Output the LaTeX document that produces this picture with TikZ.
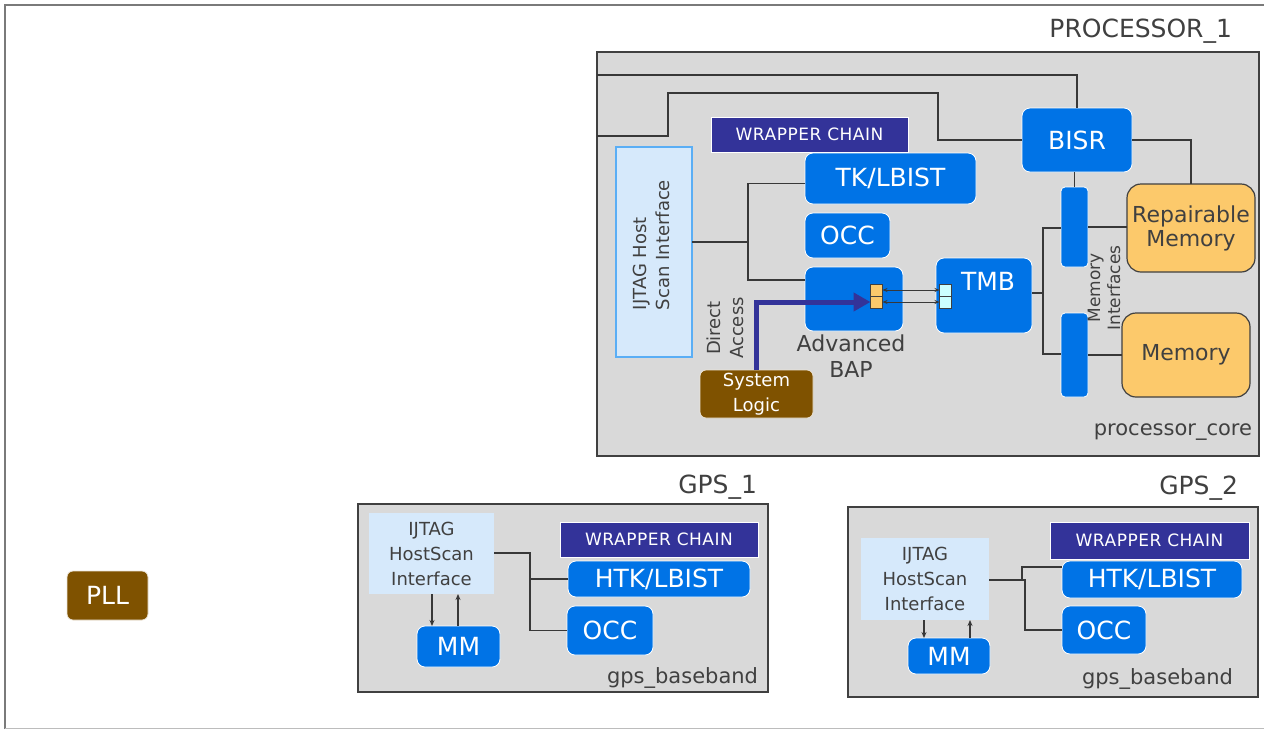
\documentclass[tikz,border=0pt]{standalone}
\usepackage{fontspec}
\setmainfont{DejaVu Sans}
\usetikzlibrary{arrows.meta,calc}
\definecolor{bluec}{HTML}{0073E6}
\definecolor{purp}{HTML}{333399}
\definecolor{brownc}{HTML}{7F5200}
\definecolor{memc}{HTML}{FCC96B}
\definecolor{ltblue}{HTML}{D6E9FB}
\definecolor{ltborder}{HTML}{5AAEF5}
\definecolor{bgray}{HTML}{D9D9D9}
\definecolor{txtc}{HTML}{404040}
\definecolor{linec}{HTML}{383838}
\definecolor{framec}{HTML}{7A7A7A}
\definecolor{cyanc}{HTML}{CCFFFF}
\newcommand\myfs[1]{\fontsize{#1}{#1}\selectfont}
\begin{document}
\begin{tikzpicture}[x=1pt,y=-1pt,
  base/.style={rectangle, inner sep=0pt, outer sep=0pt},
  container/.style={base, fill=bgray, draw=txtc, line width=1.5pt},
  bluebox/.style={base, fill=bluec, draw=white, line width=0.8pt, rounded corners=8pt, text=white, font=\myfs{25}},
  wrapbox/.style={base, fill=purp, draw=white, line width=1pt, text=white, font={\addfontfeatures{LetterSpace=3}\myfs{17}}},
  brownbox/.style={base, fill=brownc, draw=white!85!brownc, line width=0.8pt, rounded corners=6pt, text=white},
  membox/.style={base, fill=memc, draw=txtc, line width=1.2pt, rounded corners=14pt, text=txtc, font=\myfs{22}, align=center},
  hostbox/.style={base, fill=ltblue, text=txtc, font=\myfs{18}, align=center},
  sq/.style={base, draw=txtc, line width=0.8pt, minimum width=12pt, minimum height=12pt},
  lbl/.style={base, text=txtc},
  conn/.style={draw=linec, line width=1.3pt},
  thin/.style={draw=linec, line width=1pt, {Stealth[length=5pt,width=4pt]}-{Stealth[length=5pt,width=4pt]}},
  sarrow/.style={draw=linec, line width=1.3pt, -{Stealth[length=6pt,width=5pt]}}
]
\useasboundingbox (0,0) rectangle (1264,729);
% outer frame
\draw[framec, line width=2pt] (5,729) -- (5,5) -- (1264,5);
\draw[framec!50, line width=1pt] (5,728) -- (1264,728);

% ================= PROCESSOR =================
\node[lbl, anchor=east, font=\myfs{25}] (ptitle) at (1232,31) {PROCESSOR\_1};
\node[container, minimum width=662pt, minimum height=404pt] (proc) at (928,254) {};
\node[lbl, anchor=east, font=\myfs{21}] (pcore) at (1252,432) {processor\_core};

\node[wrapbox, minimum width=197pt, minimum height=35pt] (wrap) at (809.5,134.5) {WRAPPER CHAIN};
\node[bluebox, minimum width=171pt, minimum height=51pt] (tk) at (890.5,178.5) {TK/LBIST};
\node[bluebox, minimum width=85pt, minimum height=45pt] (occ) at (847.5,235.5) {OCC};
\node[bluebox, minimum width=98pt, minimum height=64pt] (bap) at (854,299) {};
\node[lbl, align=center, font=\myfs{22}] (baplbl) at (851,356) {Advanced\\[4pt]BAP};
\node[bluebox, minimum width=96pt, minimum height=75pt] (tmb) at (984,295.5) {};
\node[lbl, text=white, font=\myfs{25}] (tmbl) at (988,281) {TMB};
\node[bluebox, minimum width=110pt, minimum height=64pt] (bisr) at (1077,140) {BISR};
\node[bluebox, rounded corners=4pt, minimum width=27pt, minimum height=80pt] (ubar) at (1074.5,227) {};
\node[bluebox, rounded corners=4pt, minimum width=27pt, minimum height=84pt] (lbar) at (1074.5,355) {};
\node[membox, minimum width=128pt, minimum height=88pt] (repmem) at (1191,228) {Repairable\\[2pt]Memory};
\node[membox, minimum width=128pt, minimum height=84pt] (mem) at (1186,355) {Memory};
\node[lbl, rotate=90, align=center, font=\myfs{17}] (mif) at (1104,288) {Memory\\[3pt]Interfaces};

\node[base, fill=ltblue, draw=ltborder, line width=1.5pt, minimum width=76pt, minimum height=210pt] (ijtag) at (654,252) {};
\node[lbl, rotate=90, anchor=west, align=left, font=\myfs{18}] (ijtagl) at (651,310) {IJTAG Host\\[5pt]Scan Interface};
\node[lbl, rotate=90, align=center, font=\myfs{18}] (direct) at (725,328) {Direct\\[5pt]Access};
\node[brownbox, align=center, font=\myfs{18}, minimum width=113pt, minimum height=48pt] (sys) at (756.5,394) {System\\[7pt]Logic};

\node[sq, fill=memc] (osqA) at (876.5,290) {};
\node[sq, fill=memc] (osqB) at (876.5,302) {};
\node[sq, fill=cyanc] (csqA) at (945.5,290) {};
\node[sq, fill=cyanc] (csqB) at (945.5,302) {};

% connectors processor
\coordinate (l1s) at (597,75);
\draw[conn] (l1s) -| (bisr.north);
\coordinate (l2s) at (597,136);
\coordinate (l2a) at (668,93);
\coordinate (l2b) at (938,93);
\draw[conn] (l2s) -| (l2a) -- (l2b) |- (bisr.west);
\draw[conn] (bisr.east) -| (repmem.north);
\draw[conn] (ubar.north |- bisr.south) -- (ubar.north);
\draw[conn] (ubar.east) -- (ubar.east -| repmem.west);
\draw[conn] (lbar.east) -- (lbar.east -| mem.west);
\coordinate (tj) at (1043,293);
\draw[conn] (tmb.east |- tj) -- (tj);
\draw[conn] ([yshift=-1pt]ubar.west) -| (tj) |- ([yshift=1pt]lbar.west);
\coordinate (ij) at (748,242);
\draw[conn] (ijtag.east |- ij) -- (ij);
\draw[conn] ([yshift=-5pt]tk.west) -| (ij) |- ([yshift=19pt]bap.west);
\draw[thin] (osqA.east) -- (csqA.west);
\draw[thin] (osqB.east) -- (csqB.west);
\draw[purp, line width=5pt, -{Triangle[length=17pt,width=18pt]}] (sys.north) |- (osqB.west);

% ================= GPS_1 =================
\node[lbl, anchor=east, font=\myfs{25}] (g1title) at (757,487) {GPS\_1};
\node[container, minimum width=410pt, minimum height=188pt] (g1) at (563,598) {};
\node[lbl, anchor=east, font=\myfs{21}] (g1core) at (758,678) {gps\_baseband};
\node[hostbox, minimum width=125pt, minimum height=81pt] (g1ij) at (431.5,553.5) {IJTAG\\[7pt]HostScan\\[7pt]Interface};
\node[wrapbox, minimum width=198pt, minimum height=35pt] (g1wrap) at (659,539.5) {WRAPPER CHAIN};
\node[bluebox, minimum width=182pt, minimum height=36pt] (g1htk) at (659,579) {HTK/LBIST};
\node[bluebox, minimum width=86pt, minimum height=49pt] (g1occ) at (610,630.5) {OCC};
\node[bluebox, minimum width=83pt, minimum height=41pt] (g1mm) at (458.5,646.5) {MM};
\coordinate (g1j) at (530,553);
\draw[conn] (g1ij.east |- g1j) -- (g1j) |- (g1occ.west);
\draw[conn] (g1j |- g1htk.west) -- (g1htk.west);
\coordinate (g1a) at (432,594);
\coordinate (g1b) at (458,626);
\draw[sarrow] (g1a) -- (g1a |- g1mm.north);
\draw[sarrow] (g1b) -- (g1b |- g1ij.south);

% ================= GPS_2 =================
\node[lbl, anchor=east, font=\myfs{25}] (g2title) at (1238,488) {GPS\_2};
\node[container, minimum width=410pt, minimum height=190pt] (g2) at (1053,602) {};
\node[lbl, anchor=east, font=\myfs{21}] (g2core) at (1233,679) {gps\_baseband};
\node[hostbox, minimum width=128pt, minimum height=82pt] (g2ij) at (925,579) {IJTAG\\[7pt]HostScan\\[7pt]Interface};
\node[wrapbox, minimum width=199pt, minimum height=37pt] (g2wrap) at (1149.5,540.5) {WRAPPER CHAIN};
\node[bluebox, minimum width=180pt, minimum height=37pt] (g2htk) at (1152,579.5) {HTK/LBIST};
\node[bluebox, minimum width=84pt, minimum height=48pt] (g2occ) at (1104,630) {OCC};
\node[bluebox, minimum width=82pt, minimum height=36pt] (g2mm) at (949,656) {MM};
\coordinate (g2j) at (1025,580);
\coordinate (g2k) at (1022,567);
\draw[conn] (g2ij.east |- g2j) -- (g2j) |- (g2occ.west);
\draw[conn] (g2k |- g2j) -- (g2k) -- (g2k -| g2htk.west);
\coordinate (g2a) at (924,620);
\coordinate (g2b) at (970,638);
\draw[sarrow] (g2a) -- (g2a |- g2mm.north);
\draw[sarrow] (g2b) -- (g2b |- g2ij.south);

% ================= PLL =================
\node[brownbox, font=\myfs{25}, minimum width=81pt, minimum height=49pt] (pll) at (107.5,595.5) {PLL};
\end{tikzpicture}
\end{document}
